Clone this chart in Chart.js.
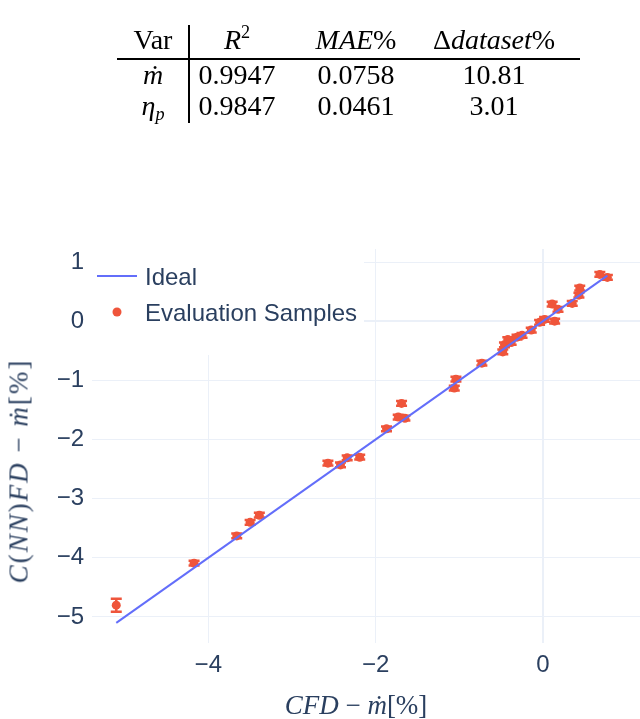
<!DOCTYPE html>
<html>
<head>
<meta charset="utf-8">
<script src="https://cdn.jsdelivr.net/npm/chart.js@4/dist/chart.umd.min.js"></script>
<style>
html,body{margin:0;padding:0;background:#fff;width:640px;height:719px;overflow:hidden;}
#c{position:absolute;left:0;top:0;}
.cell{position:absolute;font-family:"Liberation Serif","Times New Roman",serif;font-size:28px;color:#000;transform:translate(-50%,-50%);white-space:nowrap;line-height:1;}
.rule{position:absolute;background:#000;}
.ax{position:absolute;font-family:"Liberation Serif","Times New Roman",serif;font-size:27px;color:#2a3f5f;white-space:nowrap;line-height:1;}
i{font-style:italic;}
sup{font-size:65%;vertical-align:0.6em;line-height:0;}
sub{font-size:65%;vertical-align:-0.3em;line-height:0;}
</style>
</head>
<body>
<canvas id="c" width="640" height="719"></canvas>
<div id="table"></div>
<div class="ax" id="xt" style="left:356px;top:705px;transform:translate(-50%,-50%);"><i>CFD</i> − <i>ṁ</i>[%]</div>
<div class="ax" id="yt" style="left:19px;top:471px;letter-spacing:2px;transform:translate(-50%,-50%) rotate(-90deg);"><i>C</i>(<i>NN</i>)<i>FD</i> − <i>ṁ</i>[%]</div>
<script>
// ---- table data ----
const tableHeader = ['Var', '<i>R</i><sup>2</sup>', '<i>MAE</i>%', 'Δ<i>dataset</i>%'];
const tableVars = ['<i>ṁ</i>', '<i>η</i><sub><i>p</i></sub>'];
const r2Values = ['0.9947', '0.9847'];
const maeValues = ['0.0758', '0.0461'];
const deltaValues = ['10.81', '3.01'];

// ---- chart data ----
const cfd = [-5.10, -4.17, -3.66, -3.50, -3.39, -2.57, -2.42, -2.34, -2.19, -1.87,
             -1.69, -1.73, -1.65, -1.06, -1.04, -0.73, -0.48, -0.46, -0.42, -0.38,
             -0.31, -0.25, -0.14, -0.04, 0.02, 0.14, 0.11, 0.18, 0.35, 0.43,
             0.44, 0.68, 0.77];
const nn  = [-4.80, -4.09, -3.63, -3.40, -3.28, -2.40, -2.43, -2.31, -2.30, -1.82,
             -1.39, -1.62, -1.64, -1.13, -0.98, -0.71, -0.52, -0.40, -0.31, -0.36,
             -0.27, -0.24, -0.15, -0.02, 0.03, 0.00, 0.29, 0.20, 0.30, 0.44,
             0.56, 0.79, 0.74];
const err = [0.11, 0.04, 0.04, 0.04, 0.04, 0.04, 0.04, 0.04, 0.04, 0.04,
             0.04, 0.04, 0.04, 0.04, 0.04, 0.04, 0.04, 0.04, 0.04, 0.04,
             0.04, 0.04, 0.04, 0.04, 0.04, 0.04, 0.04, 0.04, 0.04, 0.04,
             0.04, 0.04, 0.04];
const idealX = [-5.10, 0.77];
const idealY = [-5.10, 0.77];
const xTicks = [-4, -2, 0];
const yTicks = [1, 0, -1, -2, -3, -4, -5];
const seriesNames = ['Ideal', 'Evaluation Samples'];

// ---- build table ----
(function(){
  const t = document.getElementById('table');
  const colX = [153, 237, 356, 494];
  const rowY = [40, 75, 106];
  const rows = [tableHeader];
  tableVars.forEach((v,i)=>rows.push([v, r2Values[i], maeValues[i], deltaValues[i]]));
  rows.forEach((r,ri)=>r.forEach((c,ci)=>{
    const d = document.createElement('div');
    d.className='cell'; d.innerHTML=c;
    d.style.left=colX[ci]+'px'; d.style.top=rowY[ri]+'px';
    t.appendChild(d);
  }));
  const h = document.createElement('div'); h.className='rule';
  h.style.cssText='left:117px;top:58px;width:463px;height:2px;';
  t.appendChild(h);
  const v = document.createElement('div'); v.className='rule';
  v.style.cssText='left:188px;top:25px;width:2px;height:98px;';
  t.appendChild(v);
})();

const lineColor = '#636efa';
const sampleColor = '#ef553b';
const textColor = '#2a3f5f';
const gridColor = '#ebf0f8';
const fmt = v => v < 0 ? '\u2212' + Math.abs(v) : String(v);

const errorBars = {
  id: 'errorBars',
  beforeDatasetDraw(chart, args) {
    if (args.index !== 1) return;
    const {ctx, scales: {x, y}} = chart;
    ctx.save();
    ctx.strokeStyle = sampleColor;
    ctx.lineWidth = 2.5;
    cfd.forEach((v, i) => {
      const px = x.getPixelForValue(v);
      const yt = y.getPixelForValue(nn[i] + err[i]);
      const yb = y.getPixelForValue(nn[i] - err[i]);
      ctx.beginPath();
      ctx.moveTo(px, yt); ctx.lineTo(px, yb);
      ctx.moveTo(px - 5.5, yt); ctx.lineTo(px + 5.5, yt);
      ctx.moveTo(px - 5.5, yb); ctx.lineTo(px + 5.5, yb);
      ctx.stroke();
    });
    ctx.restore();
  }
};

const legendBox = {
  id: 'legendBox',
  afterDraw(chart) {
    const {ctx, chartArea: a} = chart;
    const ds = chart.data.datasets;
    ctx.save();
    ctx.fillStyle = '#fff';
    ctx.fillRect(a.left, a.top, 272, 106);
    ctx.strokeStyle = ds[0].borderColor;
    ctx.lineWidth = 2;
    ctx.beginPath();
    ctx.moveTo(a.left + 5, a.top + 27);
    ctx.lineTo(a.left + 45, a.top + 27);
    ctx.stroke();
    ctx.fillStyle = ds[1].backgroundColor;
    ctx.beginPath();
    ctx.arc(a.left + 25, a.top + 63, 4.5, 0, Math.PI * 2);
    ctx.fill();
    ctx.fillStyle = textColor;
    ctx.font = '24px "Liberation Sans", Arial, sans-serif';
    ctx.textBaseline = 'middle';
    ctx.fillText(ds[0].label, a.left + 53, a.top + 29);
    ctx.fillText(ds[1].label, a.left + 53, a.top + 65);
    ctx.restore();
  }
};

const tickFont = {family: '"Liberation Sans", Arial, sans-serif', size: 24};
const gridOpts = {
  color: gridColor,
  lineWidth: c => (c.tick && c.tick.value === 0) ? 2 : 1,
  drawTicks: false
};

new Chart(document.getElementById('c'), {
  type: 'scatter',
  data: {
    datasets: [
      {
        label: seriesNames[0],
        type: 'line',
        data: idealX.map((v, i) => ({x: v, y: idealY[i]})),
        borderColor: lineColor,
        borderWidth: 2,
        pointRadius: 0,
        fill: false,
        tension: 0
      },
      {
        label: seriesNames[1],
        data: cfd.map((v, i) => ({x: v, y: nn[i]})),
        backgroundColor: sampleColor,
        borderWidth: 0,
        pointRadius: 4.5
      }
    ]
  },
  options: {
    responsive: false,
    animation: false,
    events: [],
    layout: {autoPadding: false, padding: {top: 249, right: 0, left: 0, bottom: 0}},
    plugins: {legend: {display: false}, tooltip: {enabled: false}},
    scales: {
      x: {
        type: 'linear', min: -5.39, max: 1.16,
        afterFit(s) { s.height = 76; s.paddingLeft = 0; s.paddingRight = 0; },
        afterBuildTicks(s) { s.ticks = xTicks.map(v => ({value: v})); },
        grid: gridOpts,
        border: {display: false},
        ticks: {padding: 8, color: textColor, font: tickFont, callback: fmt, maxRotation: 0}
      },
      y: {
        type: 'linear', min: -5.44, max: 1.22,
        afterFit(s) { s.width = 92; s.paddingTop = 0; s.paddingBottom = 0; },
        afterBuildTicks(s) { s.ticks = yTicks.map(v => ({value: v})); },
        grid: gridOpts,
        border: {display: false},
        ticks: {padding: 8, color: textColor, font: tickFont, callback: fmt}
      }
    }
  },
  plugins: [errorBars, legendBox]
});
</script>
</body>
</html>
